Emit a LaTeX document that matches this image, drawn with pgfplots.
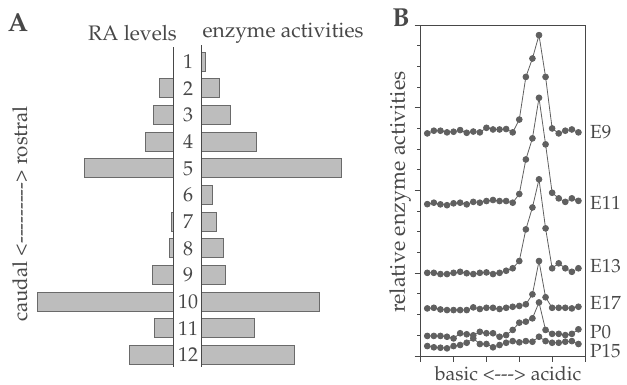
\documentclass[border=0pt]{standalone}
\usepackage[T1]{fontenc}
\usepackage{mathpazo}
\usepackage{pgfplots}
\pgfplotsset{compat=1.18}
\definecolor{txt}{HTML}{484848}
\definecolor{barfill}{HTML}{BDBDBD}
\definecolor{bardraw}{HTML}{6A6A6A}
\definecolor{ptc}{HTML}{606060}

\pgfplotstableread{
row ra enz
1 0 3.3
2 13.3 17.3
3 19.3 28.3
4 27.7 54.3
5 89 140
6 0 11
7 1.5 15
8 3.3 21.7
9 21 24
10 136 117.7
11 18.3 52.3
12 44 92.7
}\barsA

\pgfplotstableread{
x E9 E11 E13 E17 P0 P15
1 10.76 7.34 4.02 2.30 0.97 0.48
2 10.89 7.41 4.02 2.33 0.97 0.42
3 10.89 7.33 3.96 2.25 0.97 0.40
4 10.81 7.29 3.96 2.22 0.93 0.37
5 10.84 7.38 4.02 2.22 0.85 0.48
6 10.92 7.41 4.07 2.22 1.10 0.53
7 10.79 7.33 4.00 2.22 1.05 0.64
8 10.85 7.45 3.96 2.35 1.00 0.85
9 10.81 7.41 4.02 2.27 1.17 0.58
10 11.03 7.49 4.04 2.33 1.10 0.58
11 10.95 7.54 3.96 2.33 1.10 0.42
12 10.95 7.49 4.02 2.27 0.93 0.53
13 10.97 7.49 4.12 2.33 1.01 0.64
14 10.81 7.41 4.24 2.38 1.26 0.72
15 11.43 7.83 4.59 2.42 1.61 0.66
16 13.49 9.50 6.12 2.50 1.66 0.72
17 14.38 10.52 7.18 2.98 1.82 0.69
18 15.51 12.48 8.54 4.59 2.59 0.93
19 13.49 10.23 6.17 2.84 1.26 0.72
20 11.00 7.89 4.24 2.33 1.07 0.64
21 10.76 7.62 4.48 2.33 1.07 0.64
22 10.89 7.45 4.24 2.33 1.01 0.69
23 10.95 7.62 4.07 2.30 1.07 0.72
24 10.81 7.50 4.24 2.38 1.29 0.58
}\seriesB

\begin{document}
\begin{tikzpicture}[x=1pt,y=1pt]
\path (0,0) rectangle (627,385);
% ---------- Panel A ----------
\begin{axis}[at={(33.3pt,16.7pt)}, anchor=south west, scale only axis,
  width=140pt, height=320pt, xmin=0, xmax=140, x dir=reverse,
  ymin=0.5, ymax=12.5, y dir=reverse, axis lines=none,
  xbar, bar width=19pt, clip=false]
\addplot[fill=barfill, draw=bardraw, line width=1pt] table[x=ra,y=row]{\barsA};
\end{axis}
\begin{axis}[at={(201.7pt,16.7pt)}, anchor=south west, scale only axis,
  width=150pt, height=320pt, xmin=0, xmax=150,
  ymin=0.5, ymax=12.5, y dir=reverse, axis lines=none,
  xbar, bar width=19pt, clip=false]
\addplot[fill=barfill, draw=bardraw, line width=1pt] table[x=enz,y=row]{\barsA};
\end{axis}
\draw[txt, line width=1.2pt] (173.3,18.3) -- (173.3,338.3);
\draw[txt, line width=1.2pt] (201.7,18.3) -- (201.7,340);
\foreach \i in {1,...,12}
  \node[text=txt, font=\fontsize{20}{22}\selectfont, inner sep=0pt] at (188,{323.3-(\i-1)*26.66}) {\i};
\node[text=txt, font=\fontsize{26}{28}\bfseries\selectfont, inner sep=0pt] at (18,362) {A};
\node[text=txt, font=\fontsize{21}{23}\selectfont, inner sep=0pt] at (132.5,352) {RA levels};
\node[text=txt, font=\fontsize{21}{23}\selectfont, inner sep=0pt] at (283,352) {enzyme activities};
\node[text=txt, font=\fontsize{20.5}{22}\selectfont, inner sep=0pt, rotate=90] at (20,171) {caudal <{-}{-}{-}{-}{-}{-}{-}{-}{-}> rostral};
% ---------- Panel B ----------
\begin{axis}[at={(420.7pt,29pt)}, anchor=south west, scale only axis,
  width=164.3pt, height=331pt, xmin=0, xmax=25, ymin=0, ymax=16,
  xtick={0,5,...,25}, ytick={0,4,...,16}, minor y tick num=3,
  xticklabels={}, yticklabels={}, tick pos=left, tick align=outside,
  major tick length=6pt, minor tick length=3.5pt,
  axis line style={txt, line width=0.9pt}, every tick/.style={txt, line width=0.9pt},
  clip=false]
\foreach \s in {E9,E11,E13,E17,P0,P15}{
  \addplot[ptc, line width=0.8pt, mark=*, mark size=2.9pt, mark options={fill=ptc, draw=ptc}] table[x=x,y=\s]{\seriesB};
}
\end{axis}
\node[text=txt, font=\fontsize{26}{28}\bfseries\selectfont, inner sep=0pt] at (401,367) {B};
\foreach \lab/\yy in {E9/253, E11/182, E13/119, E17/82, P0/53, P15/34}
  \node[text=txt, font=\fontsize{19}{21}\selectfont, inner sep=0pt, anchor=west] at (590,\yy) {\lab};
\node[text=txt, font=\fontsize{21.5}{23}\selectfont, inner sep=0pt, rotate=90] at (400,193) {relative enzyme activities};
\node[text=txt, font=\fontsize{19.5}{21}\selectfont, inner sep=0pt] at (508,11) {basic <{-}{-}{-}> acidic};
\end{tikzpicture}
\end{document}
